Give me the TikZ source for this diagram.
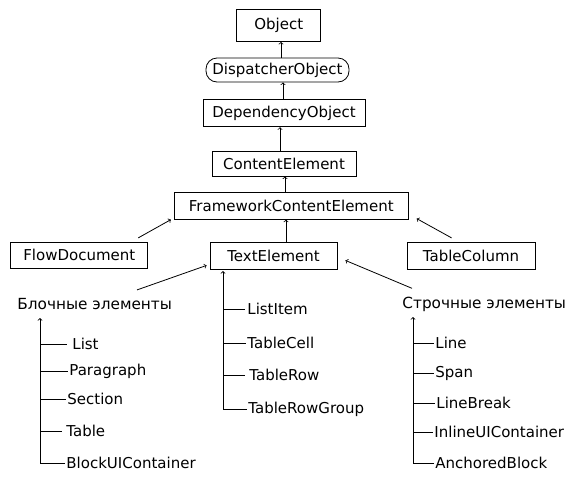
\documentclass[tikz,border=0pt]{standalone}
\usepackage{fontspec}
\setmainfont{DejaVu Sans}
\usetikzlibrary{positioning}

\begin{document}
\begin{tikzpicture}[x=1pt,y=-1pt,on grid,line width=0.8pt,
    font=\fontsize{15}{18}\selectfont,
    cls/.style={draw,minimum height=27pt,inner sep=2pt},
    leaf/.style={anchor=west,inner sep=1pt},
    head/.style={anchor=west,inner sep=1pt,font=\fontsize{15.3}{18}\selectfont}]
    \useasboundingbox (0,0) rectangle (569,480);

    % class chain
    \node[cls,minimum width=84pt,minimum height=32pt] (obj) at (278.7,25.5) {Object};
    \node[cls,rounded corners=11pt,minimum width=143pt,minimum height=24pt] (disp) [below=44.5pt of obj,xshift=-1.2pt] {DispatcherObject};
    \node[cls,minimum width=162pt] (dep) [below=43.3pt of disp,xshift=6.5pt] {DependencyObject};
    \node[cls,minimum width=144pt,minimum height=25pt] (cont) [below=50.2pt of dep] {ContentElement};
    \node[cls,minimum width=234pt] (fce) [below=42.2pt of cont,xshift=7.3pt] {FrameworkContentElement};
    \node[cls,minimum width=127pt] (text) [below=49.8pt of fce,xshift=-17.8pt] {TextElement};
    \node[cls,minimum width=137pt,minimum height=26pt] (flow) at (79.3,255.3) {FlowDocument};
    \node[cls,minimum width=128pt] (tcol) at (471,255.8) {TableColumn};

    \draw[->] (disp.north -| 281,0) -- (obj.south -| 281,0);
    \draw[->] (dep.north -| 283,0) -- (disp.south -| 283,0);
    \draw[->] (cont.north -| 280,0) -- (dep.south -| 280,0);
    \draw[->] (fce.north -| 285,0) -- (cont.south -| 285,0);
    \draw[->] (text.north -| 286,0) -- (fce.south -| 286,0);
    \draw[->] ([xshift=-10pt,yshift=4pt]flow.north east) -- ([xshift=-3pt]fce.south west);
    \draw[->] ([xshift=45pt,yshift=4pt]tcol.north west) -- ([xshift=8pt,yshift=1pt]fce.south east);

    % groups
    \node[head] (blk) at (16,304) {Блочные элементы};
    \node[head] (str) at (401,304) {Строчные элементы};
    \coordinate (blktip) at (40,318);
    \coordinate (txttip) at (223,271);
    \coordinate (strtip) at (413,317);
    \draw[->] ([xshift=121pt,yshift=7pt]blk.north west) -- ([xshift=-3pt,yshift=4pt]text.south west);
    \draw[->] ([xshift=11pt,yshift=7pt]str.north west) -- ([xshift=8pt,yshift=9pt]text.south east);

    % block elements
    \node[leaf] (list) at (71,344) {List};
    \node[leaf] (para) at (68,371) {Paragraph};
    \node[leaf] (sect) at (66,399) {Section};
    \node[leaf] (tabl) at (65,431) {Table};
    \node[leaf] (buic) at (65,463) {BlockUIContainer};
    \draw[->] (buic.west) -| (blktip);
    \draw (blktip |- list) -- ([xshift=-4pt]list.west);
    \draw (blktip |- para) -- (para.west);
    \draw (blktip |- sect) -- (sect.west);
    \draw (blktip |- tabl) -- ([xshift=-3pt]tabl.west);

    % text element children
    \node[leaf] (litem) at (246,309) {ListItem};
    \node[leaf] (tcell) at (246,343) {TableCell};
    \node[leaf] (trow) at (248,375) {TableRow};
    \node[leaf] (trg) at (247,409) {TableRowGroup};
    \draw[->] (trg.west) -| (txttip);
    \draw (txttip |- litem) -- ([xshift=-1pt]litem.west);
    \draw (txttip |- tcell) -- (tcell.west);
    \draw (txttip |- trow) -- ([xshift=-3pt]trow.west);

    % inline elements
    \node[leaf] (line) at (434,343) {Line};
    \node[leaf] (span) at (434,373) {Span};
    \node[leaf] (lbrk) at (435,403) {LineBreak};
    \node[leaf] (iuic) at (433,432) {InlineUIContainer};
    \node[leaf] (anch) at (434,463) {AnchoredBlock};
    \draw[->] (anch.west) -| (strtip);
    \draw (strtip |- line) -- (line.west);
    \draw (strtip |- span) -- (span.west);
    \draw (strtip |- lbrk) -- (lbrk.west);
    \draw (strtip |- iuic) -- (iuic.west);
\end{tikzpicture}
\end{document}
